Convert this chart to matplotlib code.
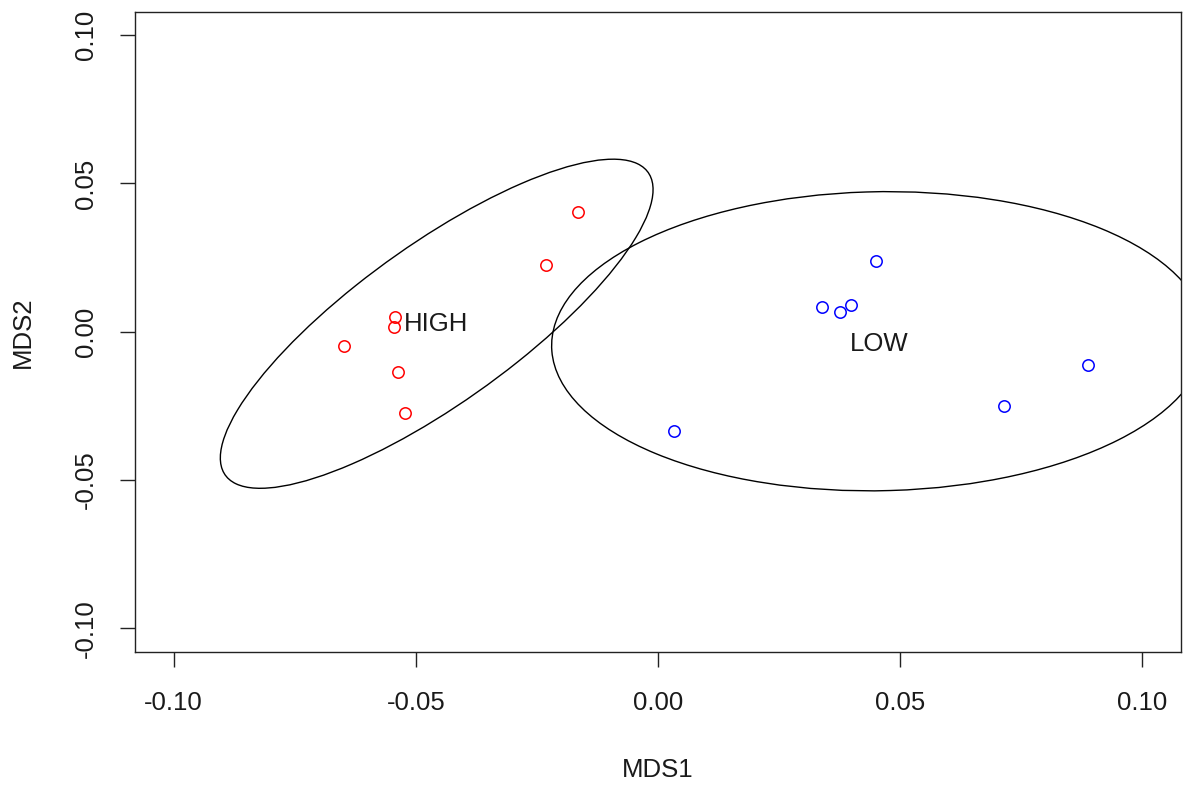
import matplotlib
matplotlib.use("Agg")
import matplotlib.pyplot as plt
from matplotlib.patches import Ellipse
from matplotlib.ticker import FormatStrFormatter

plt.rcParams['font.family'] = ['Liberation Sans', 'DejaVu Sans']
plt.rcParams['axes.unicode_minus'] = False

# Data
high_x = [-0.0166, -0.0232, -0.0544, -0.0546, -0.0649, -0.0536, -0.0522]
high_y = [0.0404, 0.0225, 0.0050, 0.0017, -0.0047, -0.0136, -0.0274]
low_x = [0.0451, 0.0339, 0.0376, 0.0399, 0.0887, 0.0715, 0.0033]
low_y = [0.0237, 0.0083, 0.0066, 0.0089, -0.0112, -0.0249, -0.0335]

groups = ["HIGH", "LOW"]
group_colors = ["#FF0000", "#0000FF"]
# ellipse centre, full width, full height, rotation (deg) in data units
ell_cx = [-0.0457, 0.0456]
ell_cy = [0.0027, -0.0032]
ell_w = [0.1361, 0.1352]
ell_h = [0.0422, 0.1008]
ell_angle = [52.5, 2.8]
# group label positions
label_x = [-0.0459, 0.0456]
label_y = [0.0026, -0.0042]

ticks = [-0.10, -0.05, 0.00, 0.05, 0.10]

fig = plt.figure(figsize=(11.87, 7.92), dpi=100)
ax = fig.add_axes([135/1187, 1 - 652/792, (1181-135)/1187, (652-11.5)/792])

ax.plot(high_x, high_y, linestyle='none', marker='o', markersize=8.2,
        markerfacecolor='none', markeredgecolor=group_colors[0], markeredgewidth=1.1)
ax.plot(low_x, low_y, linestyle='none', marker='o', markersize=8.2,
        markerfacecolor='none', markeredgecolor=group_colors[1], markeredgewidth=1.1)

for i, g in enumerate(groups):
    e = Ellipse((ell_cx[i], ell_cy[i]), ell_w[i], ell_h[i], angle=ell_angle[i],
                fill=False, edgecolor='black', linewidth=1.0)
    ax.add_patch(e)
    ax.text(label_x[i], label_y[i], g, ha='center', va='center', fontsize=18.5,
            color='#1a1a1a')

ax.set_xlim(-0.108, 0.108)
ax.set_ylim(-0.108, 0.108)
ax.set_xticks(ticks)
ax.set_yticks(ticks)
ax.xaxis.set_major_formatter(FormatStrFormatter('%.2f'))
ax.yaxis.set_major_formatter(FormatStrFormatter('%.2f'))
ax.tick_params(axis='both', length=11, width=1.0, color='#222222',
               labelsize=18.5, labelcolor='#1a1a1a')
ax.tick_params(axis='x', pad=17)
ax.tick_params(axis='y', pad=16, labelrotation=90)
for lab in ax.get_yticklabels():
    lab.set_va('center')

for sp in ax.spines.values():
    sp.set_linewidth(1.0)
    sp.set_color('#222222')

fig.text(658/1187, 1 - 770/792, "MDS1", ha='center', va='center', fontsize=18.5, color='#1a1a1a')
fig.text(23/1187, 1 - 332/792, "MDS2", ha='center', va='center', rotation=90,
         fontsize=18.5, color='#1a1a1a')

fig.savefig("out.png", dpi=100)
